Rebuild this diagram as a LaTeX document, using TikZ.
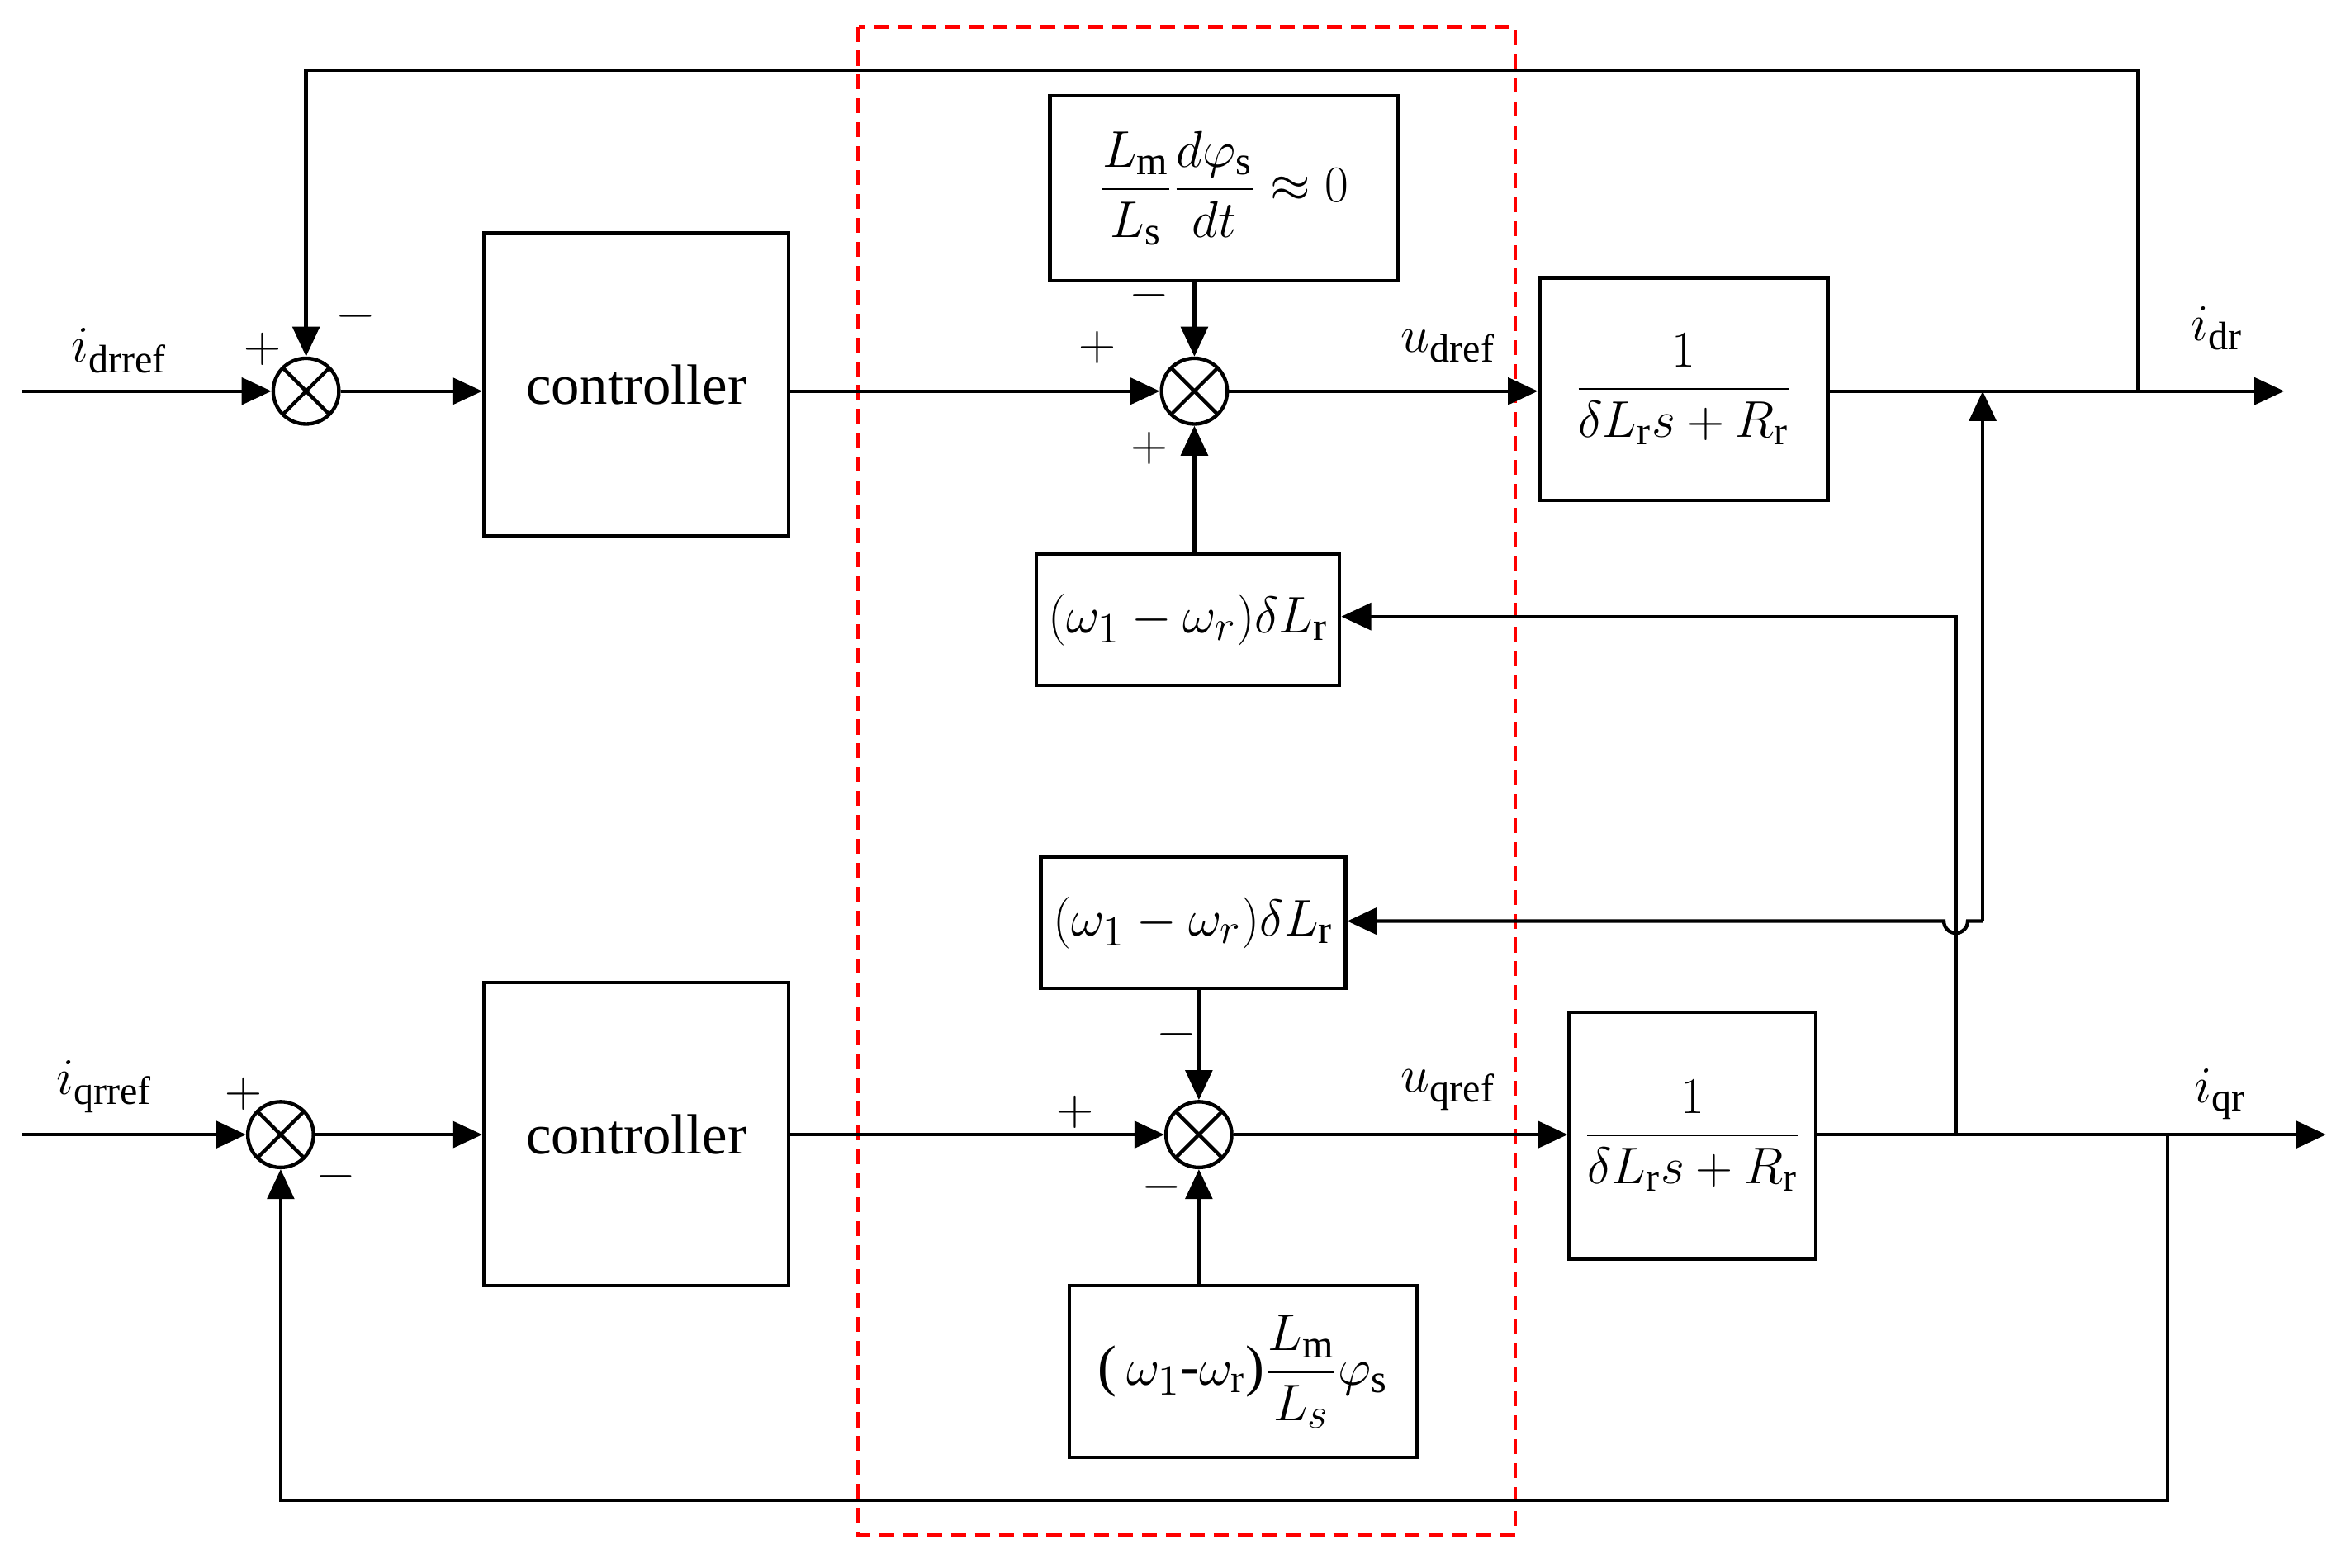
\documentclass[tikz,border=0pt]{standalone}
\usepackage{amsmath}
\usepackage{fontspec}
\setmainfont{Liberation Serif}
\usetikzlibrary{arrows.meta}
\begin{document}
\begin{tikzpicture}[x=0.5pt,y=-0.5pt,font=\fontsize{19}{22}\selectfont,
 blk/.style={draw,line width=1.2pt,inner sep=0pt,anchor=north west},
 sum/.style={draw,circle,line width=1.2pt,minimum size=22pt,inner sep=0pt,
   path picture={\draw[line width=1.2pt] (path picture bounding box.north west)--(path picture bounding box.south east)
   (path picture bounding box.north east)--(path picture bounding box.south west);}},
 ar/.style={-{Triangle[length=10pt,width=9pt]},line width=1.2pt},
 ln/.style={line width=1.2pt}]
\useasboundingbox (0,0) rectangle (1568,1050);
\draw[red,dash pattern=on 5pt off 3pt,line width=1.2pt] (575,18) rectangle (1015,1028);
% top row
\node[sum] (s1) at (205,262) {};
\node[sum] (s2) at (800,262) {};
\node[blk,minimum width=204pt*0.5,minimum height=203pt*0.5] (c1) at (323,155) {};
\node at (c1.center) {controller};
\node[blk,minimum width=233*0.5pt,minimum height=124*0.5pt] (b1) at (702,63) {};
\node at (b1.center) {$\dfrac{L_\mathrm{m}}{L_\mathrm{s}}\dfrac{d\varphi_\mathrm{s}}{dt}\approx 0$};
\node[blk,minimum width=203*0.5pt,minimum height=88*0.5pt] (b2) at (693,370) {};
\node at (b2.center) {$(\omega_1-\omega_r)\delta L_\mathrm{r}$};
\node[blk,minimum width=193*0.5pt,minimum height=149*0.5pt] (p1) at (1030,185) {};
\node at (p1.center) {$\dfrac{1}{\delta L_\mathrm{r}s+R_\mathrm{r}}$};
\coordinate (in1) at (15,262);
\coordinate (o1) at (1530,262);
\coordinate (j1) at (1432,262);
\coordinate (j2) at (1328,262);
\draw[ar] (in1)--(s1);
\draw[ar] (s1)--(c1.west|-s1);
\draw[ar] (c1.east|-s1)--(s2);
\draw[ar] (b1.south-|s2)--(s2);
\draw[ar] (b2.north-|s2)--(s2);
\draw[ar] (s2)--(p1.west|-s2);
\draw[ar] (p1.east|-s2)--(o1);
\draw[ar] (j1)--(1432,47)--(205,47)--(s1);
\node at (80,235) {$i_\mathrm{drref}$};
\node at (176,234) {$+$};
\node at (238,212) {$-$};
\node at (735,233) {$+$};
\node at (770,198) {$-$};
\node at (770,300) {$+$};
\node at (970,232) {$u_\mathrm{dref}$};
\node at (1485,220) {$i_\mathrm{dr}$};
% bottom row
\node[sum] (s3) at (188,760) {};
\node[sum] (s4) at (803,760) {};
\node[blk,minimum width=204pt*0.5,minimum height=203pt*0.5] (c2) at (323,657) {};
\node at (c2.center) {controller};
\node[blk,minimum width=204*0.5pt,minimum height=88*0.5pt] (b3) at (696,573) {};
\node at (b3.center) {$(\omega_1-\omega_r)\delta L_\mathrm{r}$};
\node[blk,minimum width=233*0.5pt,minimum height=115*0.5pt] (b4) at (715,860) {};
\node at (b4.center) {(\,$\omega_1$-$\omega_\mathrm{r}$)$\dfrac{L_\mathrm{m}}{L_s}\varphi_\mathrm{s}$};
\node[blk,minimum width=165*0.5pt,minimum height=165*0.5pt] (p2) at (1050,677) {};
\node at (p2.center) {$\dfrac{1}{\delta L_\mathrm{r}s+R_\mathrm{r}}$};
\coordinate (in2) at (15,760);
\coordinate (o2) at (1558,760);
\coordinate (j3) at (1452,760);
\coordinate (j4) at (1310,760);
\draw[ar] (in2)--(s3);
\draw[ar] (s3)--(c2.west|-s3);
\draw[ar] (c2.east|-s3)--(s4);
\draw[ar] (b3.south-|s4)--(s4);
\draw[ar] (b4.north-|s4)--(s4);
\draw[ar] (s4)--(p2.west|-s4);
\draw[ar] (p2.east|-s4)--(o2);
\draw[ar] (j3)--(1452,1005)--(188,1005)--(s3);
\draw[ar] (j4)--(1310,413)--(b2.east|-0,413);
\draw[ar] (1328,617)--(j2);
\draw[ar] (1328,617)--(1318,617) arc[start angle=0,end angle=180,radius=8]--(b3.east|-0,617);
\node at (70,728) {$i_\mathrm{qrref}$};
\node at (163,733) {$+$};
\node at (225,788) {$-$};
\node at (720,745) {$+$};
\node at (788,693) {$-$};
\node at (778,795) {$-$};
\node at (970,730) {$u_\mathrm{qref}$};
\node at (1487,733) {$i_\mathrm{qr}$};
\end{tikzpicture}
\end{document}
